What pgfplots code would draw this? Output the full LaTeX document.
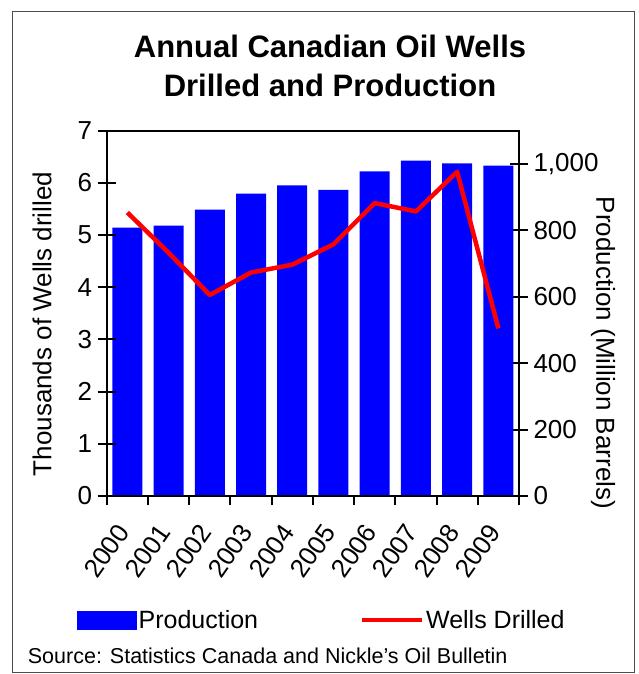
\documentclass[border=0pt]{standalone}
\usepackage{pgfplots}
\pgfplotsset{compat=1.18}
\usepackage{fontspec}
\setmainfont{Liberation Sans}
\definecolor{barblue}{RGB}{0,0,255}
\definecolor{linered}{RGB}{255,0,0}
\begin{document}
\begin{tikzpicture}
\useasboundingbox (0pt,0pt) rectangle (638pt,-674pt);
\draw[line width=1pt, black!70] (12pt,-12pt) rectangle (634pt,-672pt);
\begin{axis}[
  scale only axis, width=412.3pt, height=365.5pt,
  at={(106.7pt,-496pt)}, anchor=south west,
  xmin=-0.5, xmax=9.5, ymin=0, ymax=1100,
  hide x axis, axis y line*=right,
  axis line style={line width=2pt},
  tick align=center, major tick length=18pt,
  ytick={0,200,400,600,800,1000},
  every tick/.style={line width=2pt, black},
  /pgf/number format/assume math mode=true,
  /pgf/number format/1000 sep={,},
  yticklabel style={font=\fontsize{26}{30}\selectfont, xshift=2pt},
]
\addplot[ybar, bar width=30pt, fill=barblue, draw=none]
 coordinates {(0,808) (1,814) (2,862) (3,910) (4,935) (5,921) (6,977) (7,1009) (8,1001) (9,994)};
\end{axis}
\begin{axis}[
  scale only axis, width=412.3pt, height=365.5pt,
  at={(106.7pt,-496pt)}, anchor=south west,
  xmin=-0.5, xmax=9.5, ymin=0, ymax=7,
  axis line style={line width=2pt},
  tick align=center, major tick length=18pt, minor tick length=9pt,
  ytick={0,...,7}, ytick pos=left,
  xtick={0,...,9}, xticklabels={2000,2001,2002,2003,2004,2005,2006,2007,2008,2009},
  xtick pos=bottom,
  major x tick style={draw=none},
  minor xtick={-0.5,0.5,1.5,2.5,3.5,4.5,5.5,6.5,7.5,8.5,9.5},
  minor x tick style={line width=2pt, black, yshift=-4.5pt},
  every tick/.style={line width=2pt, black},
  /pgf/number format/assume math mode=true,
  yticklabel style={font=\fontsize{26}{30}\selectfont, xshift=-2pt},
  xticklabel style={font=\fontsize{26}{30}\selectfont, xshift=-4pt, yshift=-22pt, rotate=55, anchor=east, inner sep=0pt},
  legend columns=2,
  legend style={draw=none, fill=none, at={(-0.072,-0.339)}, anchor=west,
    font=\fontsize{25}{30}\selectfont, inner sep=0pt,
    /tikz/every even column/.append style={column sep=100pt},
    nodes={inner sep=2pt}},
]
\addlegendimage{legend image code/.code={\fill[barblue] (0pt,-9pt) rectangle (59pt,9pt);}}
\addlegendentry{Production}
\addplot[linered, line width=4.5pt, line join=round,
  legend image code/.code={\draw[linered, line width=4pt] (0pt,0pt) -- (60pt,0pt);}]
 coordinates {(0,5.43) (1,4.66) (2,3.85) (3,4.28) (4,4.43) (5,4.82) (6,5.61) (7,5.45) (8,6.21) (9,3.21)};
\addlegendentry{Wells Drilled}
\end{axis}
\node[anchor=base, font=\bfseries\fontsize{31}{36}\selectfont] at (330pt,-58pt) {Annual Canadian Oil Wells};
\node[anchor=base, font=\bfseries\fontsize{31}{36}\selectfont] at (330pt,-97pt) {Drilled and Production};
\node[rotate=90, font=\fontsize{26}{30}\selectfont] at (42pt,-324pt) {Thousands of Wells drilled};
\node[rotate=-90, font=\fontsize{26}{30}\selectfont] at (603pt,-353pt) {Production (Million Barrels)};
\node[anchor=base west, inner sep=0pt, font=\fontsize{21.5}{26}\selectfont] at (27.7pt,-663pt) {Source: Statistics Canada and Nickle's Oil Bulletin};
\end{tikzpicture}
\end{document}
